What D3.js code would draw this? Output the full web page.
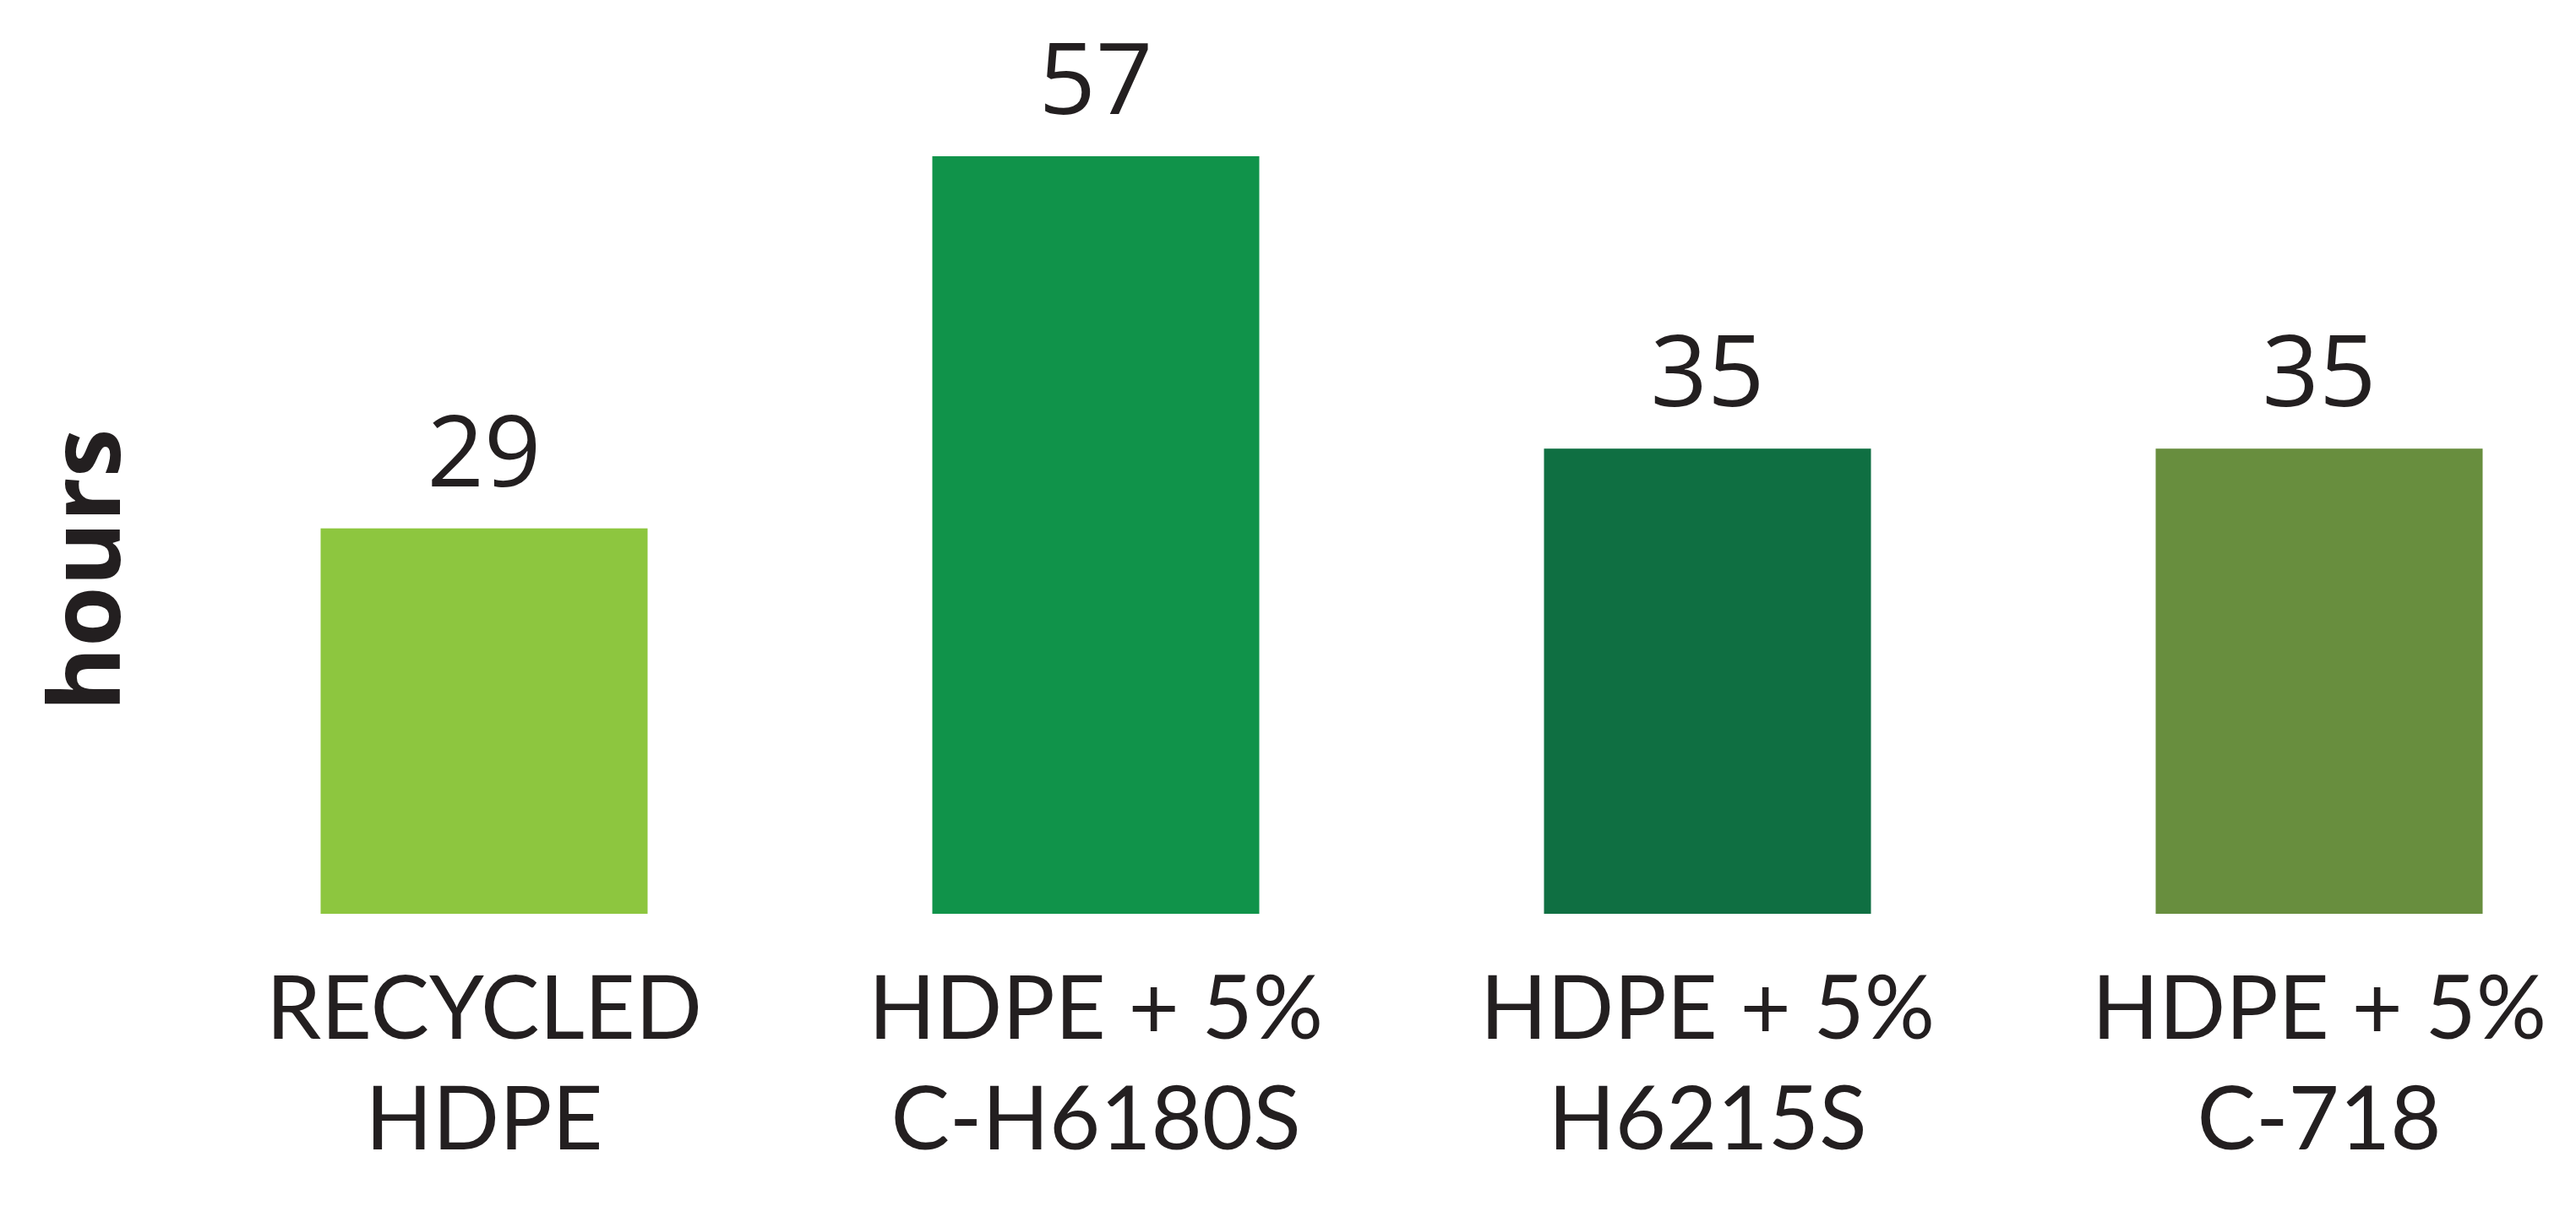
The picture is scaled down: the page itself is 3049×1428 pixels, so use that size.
<!DOCTYPE html>
<html>
<head>
<meta charset="utf-8">
<script src="https://cdn.jsdelivr.net/npm/d3@7"></script>
<style>
  html, body { margin: 0; padding: 0; background: #ffffff; }
  svg { display: block; }
</style>
</head>
<body>
<svg id="chart" width="3049" height="1428"></svg>
<script>
// ---- data ----
const categoryLine1 = ["RECYCLED", "HDPE + 5%", "HDPE + 5%", "HDPE + 5%"];
const categoryLine2 = ["HDPE", "C-H6180S", "H6215S", "C-718"];
const categoryKeys = ["RECYCLED HDPE", "HDPE + 5% C-H6180S", "HDPE + 5% H6215S", "HDPE + 5% C-718"];
const hours = [29, 57, 35, 35];
const barColors = ["#8DC63F", "#10934A", "#0F6F42", "#688E3E"];
const yAxisTitle = "hours";

// ---- layout ----
const baseline = 1082, topY = 185;
const textColor = "#231F20";

const svg = d3.select("#chart");

const step = 724, bw = 387;
const x = d3.scaleBand()
  .domain(categoryKeys)
  .range([211, 211 + step * categoryKeys.length])
  .paddingInner(1 - bw / step)
  .paddingOuter((1 - bw / step) / 2);

const y = d3.scaleLinear()
  .domain([0, d3.max(hours)])
  .range([baseline, topY]);

const data = categoryKeys.map((k, i) => ({
  key: k, l1: categoryLine1[i], l2: categoryLine2[i], v: hours[i], c: barColors[i]
}));

// bars
svg.append("g").selectAll("rect")
  .data(data)
  .join("rect")
  .attr("x", d => x(d.key))
  .attr("y", d => y(d.v))
  .attr("width", x.bandwidth())
  .attr("height", d => y(0) - y(d.v))
  .attr("fill", d => d.c);

// value labels
svg.append("g").selectAll("text")
  .data(data)
  .join("text")
  .attr("x", d => x(d.key) + x.bandwidth() / 2)
  .attr("y", d => y(d.v) - 50)
  .attr("text-anchor", "middle")
  .attr("font-family", "'Open Sans', sans-serif")
  .attr("font-size", 118)
  .attr("fill", textColor)
  .text(d => d.v);

// category labels (two lines)
const cat = svg.append("g").selectAll("g")
  .data(data)
  .join("g")
  .attr("transform", d => `translate(${x(d.key) + x.bandwidth() / 2},0)`);

cat.append("text")
  .attr("y", 1230)
  .attr("text-anchor", "middle")
  .attr("font-family", "Lato, sans-serif")
  .attr("font-size", 104)
  .attr("fill", textColor)
  .text(d => d.l1);

cat.append("text")
  .attr("y", 1361)
  .attr("text-anchor", "middle")
  .attr("font-family", "Lato, sans-serif")
  .attr("font-size", 104)
  .attr("fill", textColor)
  .text(d => d.l2);

// y axis title
svg.append("text")
  .attr("transform", "translate(142,675) rotate(-90)")
  .attr("text-anchor", "middle")
  .attr("font-family", "'Open Sans', sans-serif")
  .attr("font-weight", 700)
  .attr("font-size", 116)
  .attr("fill", textColor)
  .text(yAxisTitle);
</script>
</body>
</html>
